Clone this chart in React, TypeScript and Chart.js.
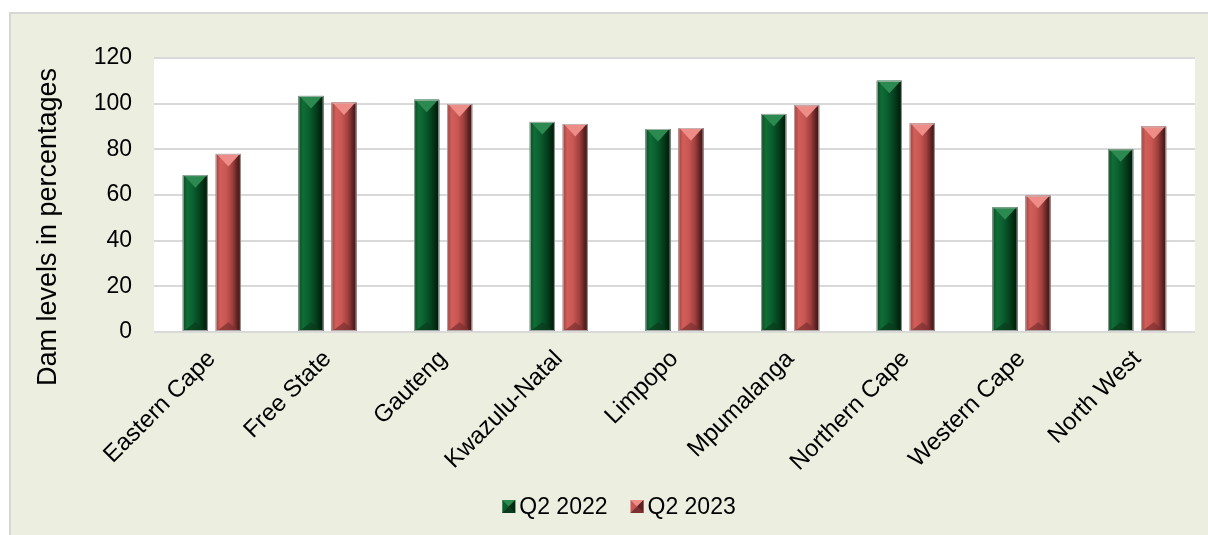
import React, { useEffect, useRef } from "react";
import { Chart, registerables } from "chart.js";

Chart.register(...registerables);

const categories = [
  "Eastern Cape",
  "Free State",
  "Gauteng",
  "Kwazulu-Natal",
  "Limpopo",
  "Mpumalanga",
  "Northern Cape",
  "Western Cape",
  "North West",
];
const q2_2022 = [68.7, 103.4, 101.7, 92, 88.9, 95.5, 110, 54.6, 80];
const q2_2023 = [78, 100.5, 99.8, 91.1, 89.3, 99.3, 91.3, 59.7, 90];
const seriesLabels = ["Q2 2022", "Q2 2023"];
const yTicks = [0, 20, 40, 60, 80, 100, 120];
const yAxisTitle = "Dam levels in percentages";

const FONT = "'Liberation Sans', Arial, sans-serif";

const palettes = [
  {
    base: "#0b5e2c",
    stops: [
      [0, "#0c4a24"],
      [0.18, "#0f6e35"],
      [0.4, "#0b6030"],
      [0.65, "#064420"],
      [0.85, "#022a10"],
      [1, "#011609"],
    ],
    top: "#2c8a50",
    bottom: "#0a3a1b",
  },
  {
    base: "#c0504d",
    stops: [
      [0, "#9c403e"],
      [0.18, "#d25e59"],
      [0.42, "#c85652"],
      [0.66, "#a0403e"],
      [0.86, "#5c2222"],
      [1, "#3a1414"],
    ],
    top: "#ee8c88",
    bottom: "#7a3030",
  },
];

function drawBevelBar(ctx: CanvasRenderingContext2D, left: number, right: number, top: number, bottom: number, pal: any) {
  const w = right - left;
  const h = bottom - top;
  if (w <= 0 || h <= 0) return;
  const g = ctx.createLinearGradient(left, 0, right, 0);
  pal.stops.forEach((s: any) => g.addColorStop(s[0], s[1]));
  ctx.save();
  ctx.fillStyle = g;
  ctx.fillRect(left, top, w, h);
  const cx = (left + right) / 2;
  const d = Math.min(w * 0.5, h / 2);
  ctx.fillStyle = pal.top;
  ctx.beginPath();
  ctx.moveTo(left + 1, top);
  ctx.lineTo(right - 1, top);
  ctx.lineTo(cx, top + d);
  ctx.closePath();
  ctx.fill();
  ctx.fillStyle = pal.bottom;
  ctx.globalAlpha = 0.7;
  ctx.beginPath();
  ctx.moveTo(left + 1, bottom);
  ctx.lineTo(right - 1, bottom);
  ctx.lineTo(cx, bottom - d * 0.7);
  ctx.closePath();
  ctx.fill();
  ctx.globalAlpha = 1;
  ctx.strokeStyle = "rgba(190,190,190,0.8)";
  ctx.lineWidth = 1;
  ctx.strokeRect(left + 0.5, top + 0.5, w - 1, h - 1);
  ctx.restore();
}

const backgroundPlugin = {
  id: "bgBox",
  beforeDraw(chart: any) {
    const { ctx, chartArea } = chart;
    ctx.save();
    ctx.fillStyle = "#ffffff";
    ctx.fillRect(0, 0, chart.width, chart.height);
    ctx.fillStyle = "#ECEFE0";
    ctx.fillRect(10, 13, chart.width - 10, chart.height - 13);
    ctx.strokeStyle = "#D6D6D6";
    ctx.lineWidth = 2;
    ctx.beginPath();
    ctx.moveTo(10, chart.height);
    ctx.lineTo(10, 13);
    ctx.lineTo(chart.width, 13);
    ctx.stroke();
    ctx.fillStyle = "#ffffff";
    ctx.fillRect(chartArea.left, chartArea.top, chartArea.right - chartArea.left, chartArea.bottom - chartArea.top);
    ctx.restore();
  },
};

const bevelPlugin = {
  id: "bevelBars",
  afterDatasetsDraw(chart: any) {
    const { ctx } = chart;
    chart.data.datasets.forEach((_ds: any, i: number) => {
      const meta = chart.getDatasetMeta(i);
      if (meta.hidden) return;
      meta.data.forEach((bar: any) => {
        const left = bar.x - bar.width / 2;
        const right = bar.x + bar.width / 2;
        drawBevelBar(ctx, left, right, Math.min(bar.y, bar.base), Math.max(bar.y, bar.base), palettes[i]);
      });
    });
  },
};

const titlePlugin = {
  id: "yTitle",
  afterDraw(chart: any) {
    const { ctx } = chart;
    ctx.save();
    ctx.translate(55.5, 227);
    ctx.rotate(-Math.PI / 2);
    ctx.font = `27px ${FONT}`;
    ctx.fillStyle = "#000000";
    ctx.textAlign = "center";
    ctx.textBaseline = "alphabetic";
    ctx.fillText(yAxisTitle, 0, 0);
    ctx.restore();
  },
};

const legendPlugin = {
  id: "customLegend",
  afterDraw(chart: any) {
    const { ctx } = chart;
    ctx.save();
    ctx.font = `23px ${FONT}`;
    ctx.textBaseline = "middle";
    ctx.fillStyle = "#000000";
    const box = 13;
    const gap = 4;
    const itemGap = 23;
    const widths = seriesLabels.map((l) => ctx.measureText(l).width);
    const total = widths.reduce((a, w) => a + box + gap + w, 0) + itemGap * (seriesLabels.length - 1);
    let x = 619 - total / 2;
    const cy = 507;
    seriesLabels.forEach((label, i) => {
      const pal = palettes[i];
      const bx = x;
      const by = cy - box / 2 - 0.5;
      ctx.fillStyle = pal.stops[2][1];
      ctx.fillRect(bx, by, box, box);
      ctx.fillStyle = pal.top;
      ctx.beginPath();
      ctx.moveTo(bx, by);
      ctx.lineTo(bx + box, by);
      ctx.lineTo(bx + box / 2, by + box / 2);
      ctx.closePath();
      ctx.fill();
      ctx.fillStyle = pal.stops[4][1];
      ctx.beginPath();
      ctx.moveTo(bx + box, by);
      ctx.lineTo(bx + box, by + box);
      ctx.lineTo(bx + box / 2, by + box / 2);
      ctx.closePath();
      ctx.fill();
      ctx.fillStyle = pal.bottom;
      ctx.beginPath();
      ctx.moveTo(bx, by + box);
      ctx.lineTo(bx + box, by + box);
      ctx.lineTo(bx + box / 2, by + box / 2);
      ctx.closePath();
      ctx.fill();
      ctx.fillStyle = "#000000";
      ctx.fillText(label, bx + box + gap, cy + 1);
      x = bx + box + gap + widths[i] + itemGap;
    });
    ctx.restore();
  },
};

export default function App() {
  const canvasRef = useRef<HTMLCanvasElement | null>(null);

  useEffect(() => {
    if (!canvasRef.current) return;
    const chart = new Chart(canvasRef.current, {
      type: "bar",
      data: {
        labels: categories,
        datasets: [
          {
            label: seriesLabels[0],
            data: q2_2022,
            backgroundColor: palettes[0].base,
            borderWidth: 0,
            categoryPercentage: 0.57,
            barPercentage: 0.76,
          },
          {
            label: seriesLabels[1],
            data: q2_2023,
            backgroundColor: palettes[1].base,
            borderWidth: 0,
            categoryPercentage: 0.57,
            barPercentage: 0.76,
          },
        ],
      },
      options: {
        animation: false,
        responsive: true,
        maintainAspectRatio: false,
        layout: { padding: { left: 10, right: 13, top: 58, bottom: 0 } },
        plugins: {
          legend: { display: false },
          tooltip: { enabled: false },
        },
        scales: {
          x: {
            grid: { display: false, drawTicks: false },
            border: { display: false },
            ticks: {
              minRotation: 45,
              maxRotation: 45,
              autoSkip: false,
              padding: 13,
              color: "#000000",
              font: { family: FONT, size: 24 },
            },
            afterFit(scale: any) {
              scale.height = 203;
            },
          },
          y: {
            min: 0,
            max: 120,
            afterBuildTicks(scale: any) {
              scale.ticks = yTicks.map((v) => ({ value: v }));
            },
            grid: { color: "#D9D9D9", lineWidth: 2, drawTicks: false },
            border: { display: false },
            ticks: {
              padding: 22,
              color: "#000000",
              font: { family: FONT, size: 23 },
            },
            title: { display: false },
            afterFit(scale: any) {
              scale.width = 144;
            },
          },
        },
      },
      plugins: [backgroundPlugin, bevelPlugin, titlePlugin, legendPlugin],
    });
    return () => chart.destroy();
  }, []);

  return (
    <div style={{ position: "absolute", left: 0, top: 0, width: 1208, height: 535 }}>
      <canvas ref={canvasRef} />
    </div>
  );
}
